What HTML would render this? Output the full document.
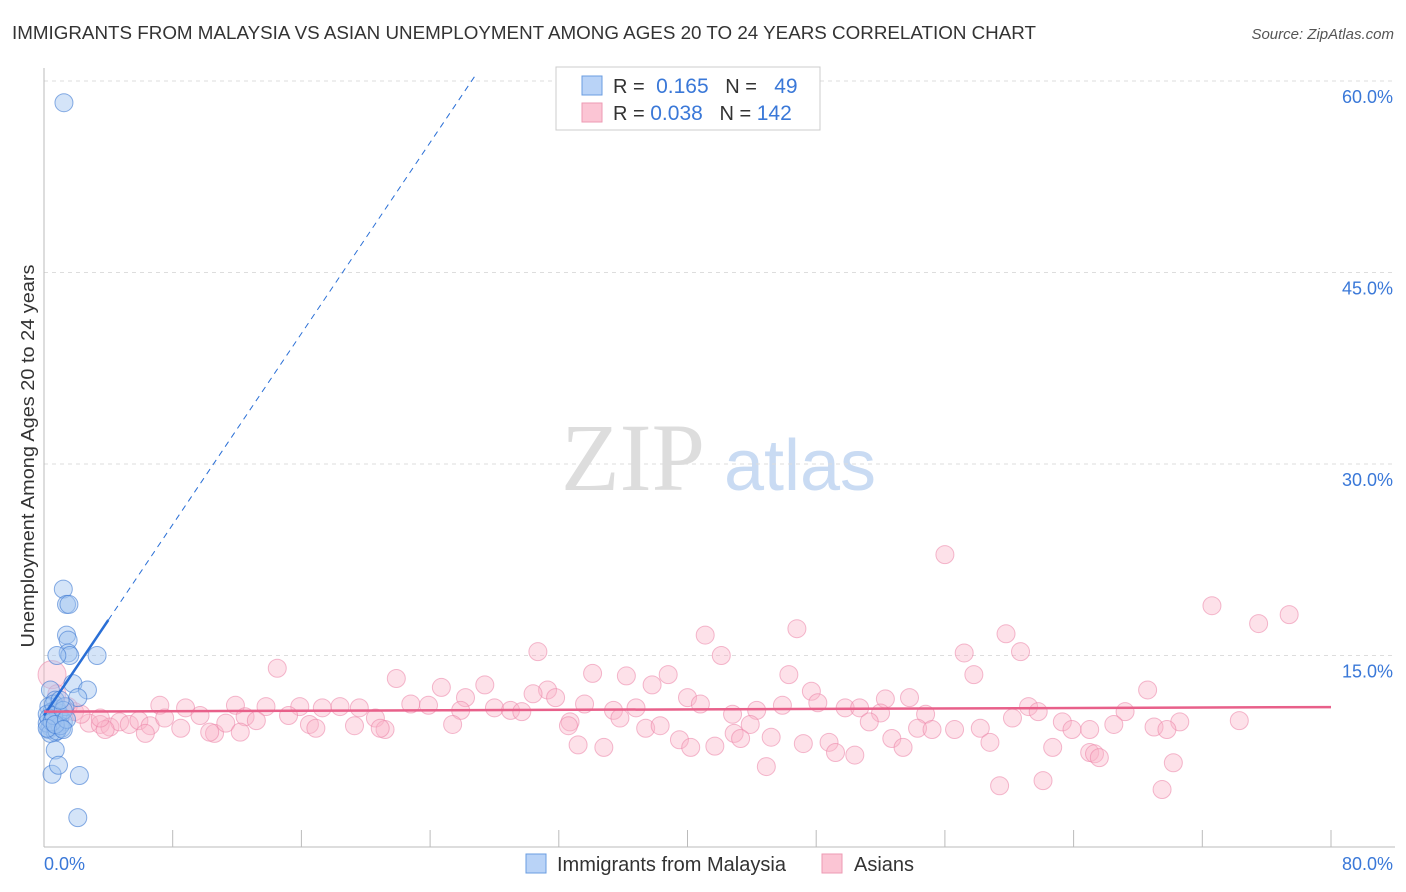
<!DOCTYPE html>
<html><head><meta charset="utf-8"><style>
body{margin:0;background:#fff;font-family:"Liberation Sans",sans-serif}
svg{display:block}
</style></head><body>
<svg id="chart" width="1406" height="892" font-family="Liberation Sans, sans-serif">
<text x="12" y="39" font-size="18" fill="#333" textLength="1024" lengthAdjust="spacingAndGlyphs">IMMIGRANTS FROM MALAYSIA VS ASIAN UNEMPLOYMENT AMONG AGES 20 TO 24 YEARS CORRELATION CHART</text>
<text x="1394" y="39" font-size="15" fill="#555" font-style="italic" text-anchor="end">Source: ZipAtlas.com</text>
<text x="34" y="456" font-size="18" fill="#333" text-anchor="middle" textLength="383" lengthAdjust="spacingAndGlyphs" transform="rotate(-90 34 456)">Unemployment Among Ages 20 to 24 years</text>
<g><text x="633" y="490" font-size="96" fill="#ddd" font-family="Liberation Serif, serif" text-anchor="middle">ZIP</text><text x="800" y="490" font-size="72" fill="#c9dbf3" text-anchor="middle">atlas</text></g>
<g id="grid"></g><g id="axes"></g><g id="pts"></g><g id="lines"></g>
<g>
<rect x="556" y="67" width="264" height="63" fill="#fff" stroke="#ccc"/>
<rect x="582" y="76" width="20" height="19" fill="#b9d3f7" stroke="#6a9de0"/>
<rect x="582" y="103" width="20" height="19" fill="#fbc5d4" stroke="#ee9ab3"/>
<text x="613" y="93" font-size="20" fill="#333">R = <tspan fill="#3a78d8" font-size="21">&#160;0.165</tspan>&#160;&#160;&#160;N = <tspan fill="#3a78d8" font-size="21">&#160;&#160;49</tspan></text>
<text x="613" y="120" font-size="20" fill="#333">R = <tspan fill="#3a78d8" font-size="21">0.038</tspan>&#160;&#160;&#160;N = <tspan fill="#3a78d8" font-size="21">142</tspan></text>
</g>
<g>
<rect x="526" y="854" width="20" height="19" fill="#b9d3f7" stroke="#6a9de0"/>
<text x="557" y="871" font-size="20" fill="#333">Immigrants from Malaysia</text>
<rect x="822" y="854" width="20" height="19" fill="#fbc5d4" stroke="#ee9ab3"/>
<text x="854" y="871" font-size="20" fill="#333">Asians</text>
</g>
</svg>
<script>
const yTicks=[15,30,45,60];
const yTickLabels=["15.0%","30.0%","45.0%","60.0%"];
const xLabels=["0.0%","80.0%"];
const blueX=[1.24,1.2,1.4,1.55,1.4,1.5,1.5,1.6,3.3,0.8,1.8,2.7,2.1,0.4,0.7,0.3,0.5,0.8,1.0,0.2,0.6,0.9,1.2,0.4,0.3,0.7,1.1,0.5,0.2,0.9,0.6,1.3,0.4,0.8,0.3,1.0,0.5,0.6,1.2,0.2,0.7,1.0,1.4,1.2,0.7,0.5,2.2,2.1,0.9];
const blueY=[58.3,20.2,19.0,19.0,16.6,16.2,15.2,15.0,15.0,15.0,12.8,12.3,11.7,12.3,11.5,11.0,10.6,10.8,10.2,10.4,9.9,9.6,9.8,9.4,9.2,9.0,9.3,10.0,9.7,10.5,11.2,11.0,8.9,9.1,10.1,9.5,9.8,10.3,10.7,9.3,9.6,11.5,10.0,9.2,7.6,5.7,5.6,2.3,6.4];
const pinkX=[0.5,14.5,56.0,72.6,75.5,77.4,41.1,46.8,59.8,57.2,60.7,30.7,42.1,34.1,36.2,38.8,46.3,57.8,21.9,27.4,31.3,37.8,24.7,68.6,47.7,30.4,31.8,26.2,40.0,52.3,53.8,7.2,8.8,11.9,13.8,15.9,17.3,18.4,19.6,22.8,23.9,25.9,28.0,29.0,29.7,33.6,35.4,36.8,40.8,42.8,44.3,45.9,48.1,49.8,50.7,52.0,54.8,61.2,61.8,67.2,51.3,63.3,60.2,65.0,66.5,70.6,74.3,69.0,1.0,1.9,2.8,3.5,4.1,4.7,5.3,5.9,6.6,7.5,9.7,8.5,10.6,11.3,12.5,13.2,15.2,16.5,19.3,20.6,21.2,25.4,32.7,35.8,10.3,12.2,16.9,20.9,32.6,37.4,38.3,42.9,43.9,54.3,55.2,56.6,58.2,63.9,69.8,6.3,3.8,33.2,34.8,39.5,40.2,41.7,43.3,45.2,47.2,48.8,49.2,50.4,52.7,53.4,58.8,62.7,65.0,65.3,65.6,44.9,70.2,59.4,62.1,69.5,3.5,1.5,2.3,0.8];
const pinkY=[13.5,14.0,22.9,18.9,17.5,18.2,16.6,17.1,16.7,15.2,15.3,15.3,15.0,13.6,13.4,13.5,13.5,13.5,13.2,12.7,12.3,12.7,12.5,12.3,12.2,12.0,11.7,11.7,11.7,11.6,11.7,11.1,10.9,11.1,11.0,11.0,10.9,11.0,10.9,11.2,11.1,10.7,10.9,10.7,10.6,11.2,10.7,10.9,11.2,10.4,10.7,11.1,11.3,10.9,10.9,10.5,10.4,11.0,10.6,10.6,9.8,9.8,10.1,9.2,9.6,9.8,9.9,9.4,10.1,10.6,9.7,9.6,9.4,9.8,9.6,9.9,9.5,10.1,10.3,9.3,8.9,9.7,10.2,9.9,10.3,9.6,9.5,10.1,9.2,9.6,9.8,10.1,9.0,9.0,9.3,9.3,9.5,9.3,9.5,8.9,9.6,9.3,9.2,9.2,9.3,9.2,9.2,8.9,9.2,8.0,7.8,8.4,7.8,7.9,8.5,8.6,8.1,8.2,7.4,7.2,8.5,7.8,8.2,7.8,7.4,7.3,7.0,6.3,6.6,4.8,5.2,4.5,10.1,11.0,10.4,12.0];
const blueTrend=[10.3,1.87];   // intercept, slope
const pinkTrend=[10.6,0.0045];
const blueSolidEnd=4, blueDashEnd=26.8;

const NS="http://www.w3.org/2000/svg";
const X0=44,X1=1331,Y0=847,Y60=81;
const sx=v=>X0+(X1-X0)*v/80;
const sy=v=>Y0-(Y0-Y60)*v/60;
function mk(tag,attrs,parent){const e=document.createElementNS(NS,tag);for(const k in attrs)e.setAttribute(k,attrs[k]);document.getElementById(parent).appendChild(e);return e;}

yTicks.forEach((t,i)=>{
  const g=mk('line',{x1:X0,x2:1395,y1:sy(t),y2:sy(t),stroke:'#ddd','stroke-dasharray':'4 4'},'grid');
  
  
  const l=mk('text',{x:1393,y:sy(t)+22,'font-size':18,fill:'#3a78d8','text-anchor':'end'},'axes');
  l.textContent=yTickLabels[i];
  
  
});
const ax=mk('line',{x1:X0,x2:X0,y1:68,y2:Y0,stroke:'#bbb'},'axes');


const bx=mk('line',{x1:X0,x2:1395,y1:Y0,y2:Y0,stroke:'#bbb'},'axes');


for(let i=0;i<=10;i++){
  const t=mk('line',{x1:sx(i*8),x2:sx(i*8),y1:830,y2:Y0,stroke:'#bbb'},'axes');
  
  
}
const xl0=mk('text',{x:44,y:870,'font-size':18,fill:'#3a78d8'},'axes');
xl0.textContent=xLabels[0];


const xl1=mk('text',{x:1393,y:870,'font-size':18,fill:'#3a78d8','text-anchor':'end'},'axes');
xl1.textContent=xLabels[1];



pinkX.forEach((v,i)=>{
  const c=mk('circle',{cx:sx(v),cy:sy(pinkY[i]),r:i==0?14:9,fill:'rgba(249,180,200,0.4)',stroke:'rgba(235,130,165,0.55)','stroke-width':1},'pts');
  
  
});
blueX.forEach((v,i)=>{
  const c=mk('circle',{cx:sx(v),cy:sy(blueY[i]),r:9,fill:'rgba(160,196,240,0.45)',stroke:'rgba(60,120,210,0.6)','stroke-width':1},'pts');
  
  
});
const bl=mk('line',{x1:sx(0),y1:sy(blueTrend[0]),x2:sx(blueSolidEnd),y2:sy(blueTrend[0]+blueTrend[1]*blueSolidEnd),stroke:'#2a6fd6','stroke-width':2.5},'lines');


const bd=mk('line',{x1:sx(blueSolidEnd),y1:sy(blueTrend[0]+blueTrend[1]*blueSolidEnd),x2:sx(blueDashEnd),y2:sy(blueTrend[0]+blueTrend[1]*blueDashEnd),stroke:'#2a6fd6','stroke-width':1,'stroke-dasharray':'6 5'},'lines');


const pl=mk('line',{x1:sx(0),y1:sy(pinkTrend[0]),x2:sx(80),y2:sy(pinkTrend[0]+pinkTrend[1]*80),stroke:'#e8608a','stroke-width':2.5},'lines');


</script>
</body></html>
